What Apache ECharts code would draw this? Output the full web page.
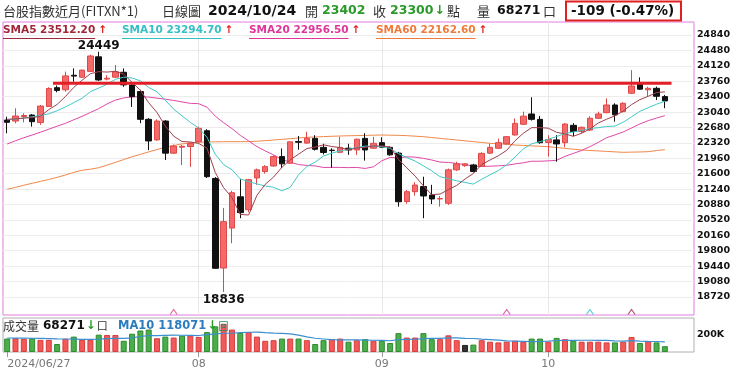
<!DOCTYPE html>
<html><head><meta charset="utf-8">
<script src="https://cdn.jsdelivr.net/npm/echarts@6/dist/echarts.min.js"></script>
<style>html,body{margin:0;padding:0;background:#fff}#c{width:740px;height:373px}</style>
</head><body><div id="c"></div>
<script>
// ---------- data ----------
const dates = [
 '2024/06/27','2024/06/28',
 '2024/07/01','2024/07/02','2024/07/03','2024/07/04','2024/07/05','2024/07/08','2024/07/09','2024/07/10','2024/07/11','2024/07/12',
 '2024/07/15','2024/07/16','2024/07/17','2024/07/18','2024/07/19','2024/07/22','2024/07/23','2024/07/26','2024/07/29','2024/07/30','2024/07/31',
 '2024/08/01','2024/08/02','2024/08/05','2024/08/06','2024/08/07','2024/08/08','2024/08/09','2024/08/12','2024/08/13','2024/08/14','2024/08/15','2024/08/16',
 '2024/08/19','2024/08/20','2024/08/21','2024/08/22','2024/08/23','2024/08/26','2024/08/27','2024/08/28','2024/08/29','2024/08/30',
 '2024/09/02','2024/09/03','2024/09/04','2024/09/05','2024/09/06','2024/09/09','2024/09/10','2024/09/11','2024/09/12','2024/09/13',
 '2024/09/16','2024/09/18','2024/09/19','2024/09/20','2024/09/23','2024/09/24','2024/09/25','2024/09/26','2024/09/27','2024/09/30',
 '2024/10/01','2024/10/04','2024/10/07','2024/10/08','2024/10/09','2024/10/11','2024/10/14','2024/10/15','2024/10/16','2024/10/17','2024/10/18',
 '2024/10/21','2024/10/22','2024/10/23','2024/10/24'
];
const opens = [22854,22830,22935,22970,22795,23170,23610,23560,23900,23855,23990,24330,23810,23855,23970,23670,23520,22870,22390,22830,
 22080,22220,22235,22350,22605,21490,19395,20330,21060,20760,21500,21650,21780,22000,21845,22350,22315,22425,22215,22150,
 22100,22195,22155,22425,22195,22325,22215,22080,20950,21180,21300,21100,21010,20910,21690,21790,21805,21770,22080,22195,
 22295,22505,22755,22995,22870,22330,22390,22325,22730,22585,22620,22895,23025,23205,23050,23480,23690,23560,23595,23402];
const closes = [22801,22947,22960,22815,23180,23590,23545,23885,23880,24020,24350,23790,23830,23980,23675,23400,22870,22365,22830,22080,
 22245,22240,22310,22660,21530,19390,20480,21155,20690,21460,21690,21765,22000,21830,22345,22335,22430,22170,22095,22140,
 22215,22155,22405,22155,22310,22220,22040,20945,21180,21335,21080,21010,21020,21690,21830,21830,21650,22075,22215,22325,
 22465,22775,22945,22870,22325,22400,22295,22760,22585,22685,22895,22995,23205,22975,23245,23650,23575,23595,23409,23300];
const highs = [22932,23128,23010,22995,23205,23620,23660,23985,24060,24030,24380,24449,23900,24140,24060,23700,23560,22900,22870,22850,
 22280,22270,22330,22700,22640,21520,20800,21200,21470,21480,21720,21800,22030,22190,22350,22480,22580,22500,22300,22195,
 22465,22300,22420,22545,22460,22450,22240,22110,21220,21400,21530,21340,21080,21720,21880,21850,21830,22100,22300,22420,
 22480,22890,23050,23385,22950,22500,22500,22780,22780,22700,22940,23050,23360,23245,23270,24020,23850,23630,23635,23440];
const lows = [22544,22777,22800,22700,22740,23160,23500,23515,23750,23840,23980,23770,23780,23840,23630,23160,22780,22150,22370,21920,
 22060,21800,21760,22330,21500,19380,18836,19975,20560,20700,21340,21600,21760,21730,21830,22160,22300,22140,22050,21740,
 22080,22040,22040,21905,22180,22200,22020,20830,20900,21090,20560,20890,20830,20870,21660,21760,21630,21760,22060,22180,
 22280,22490,22740,22840,22300,22000,21880,22220,22480,22540,22600,22880,23010,22815,23030,23460,23560,23400,23320,23130];
const volumes = [158000,162000,155000,162000,143000,143000,94000,155000,181000,143000,143000,204000,200000,200000,132000,215000,253000,264000,162000,181000,
 170000,192000,192000,177000,234000,302000,332000,264000,226000,234000,181000,132000,139000,158000,158000,158000,139000,94000,139000,151000,
 158000,121000,139000,151000,132000,132000,106000,222000,170000,170000,222000,151000,151000,196000,139000,83000,87000,139000,121000,113000,
 121000,132000,121000,158000,158000,121000,166000,151000,132000,121000,121000,121000,113000,113000,121000,177000,106000,128000,113000,68271];
const sma5 = [22870,22880,22900,22910,22941,23098,23218,23403,23616,23784,23936,23985,23974,23994,23925,23735,23551,23258,23028,22709,
 22478,22352,22341,22307,22197,21626,21274,21043,20649,20635,21095,21352,21521,21749,21926,22055,22188,22222,22275,22234,
 22210,22155,22202,22214,22248,22249,22226,21934,21739,21544,21316,21110,21125,21227,21326,21476,21604,21815,21920,22019,
 22146,22371,22545,22676,22676,22663,22567,22530,22473,22545,22644,22784,22873,22951,23063,23214,23330,23408,23495,23512.2];
const sma10 = [22860,22880,22900,22930,22960,23000,23070,23160,23260,23362,23517,23602,23689,23805,23855,23836,23768,23616,23511,23317,
 23107,22952,22800,22668,22453,22052,21813,21692,21478,21416,21361,21313,21282,21199,21281,21575,21770,21872,22012,22080,
 22133,22172,22212,22245,22241,22230,22191,22068,21977,21896,21783,21668,21530,21483,21435,21396,21357,21470,21574,21673,
 21811,21988,22180,22298,22348,22405,22469,22538,22575,22611,22654,22676,22702,22712,22804,22929,23057,23141,23223,23294.7];
const sma20 = [22294,22370,22440,22504,22570,22640,22710,22777,22860,22940,23030,23120,23230,23320,23370,23395,23400,23390,23365,23340,
 23312,23277,23244,23236,23154,22944,22791,22654,22495,22367,22234,22132,22041,21933,21867,21814,21792,21782,21745,21748,
 21747,21742,21747,21722,21761,21902,21980,21970,21994,21988,21958,21920,21871,21864,21838,21813,21774,21769,21775,21784,
 21797,21828,21855,21891,21891,21900,21913,22004,22074,22142,22232,22332,22441,22505,22576,22667,22763,22839,22899,22956.5];
const sma60 = [21236,21280,21330,21376,21420,21465,21515,21570,21630,21680,21705,21740,21800,21865,21930,21997,22050,22110,22165,22217,
 22260,22295,22320,22334,22340,22345,22348,22348,22348,22350,22358,22372,22387,22403,22418,22434,22450,22458,22466,22474,
 22481,22486,22490,22495,22500,22504,22500,22496,22489,22477,22465,22445,22426,22406,22387,22368,22349,22330,22310,22300,
 22290,22270,22260,22250,22240,22231,22212,22193,22173,22154,22143,22132,22121,22110,22100,22104,22108,22115,22140,22162.6];
const volMa10 = [165000,164000,163000,162000,160000,158000,155000,153000,151000,149600,148100,152300,156800,160600,159500,166700,182600,193500,191600,195400,
 198100,196900,196100,193800,204000,212700,220600,220600,227000,232300,233400,227400,222100,220200,212600,198200,178900,161900,153200,144900,
 142600,141500,141500,140800,138200,135600,132300,145100,148200,150100,156500,159500,160700,165200,165900,161000,159100,150800,145900,140200,
 130100,128200,125200,121400,123300,127100,135000,136200,137300,138100,138100,137000,136200,131700,128000,133600,127600,125300,123400,118071];
const yTicks = [18720,19080,19440,19800,20160,20520,20880,21240,21600,21960,22320,22680,23040,23400,23760,24120,24480,24840];
const volTicks = [200000];
const resistance = {from: 5.5, to: 79.8, price: 23712};
const crossMarks = [{idx:20, color:'#e0508a'},{idx:60, color:'#d8409a'},{idx:70, color:'#38c4c8'},{idx:75, color:'#a03048'}];

// ---------- chart ----------
const N = dates.length;
const xCats = dates.concat(['','','']);
const yMin = 18299, yMax = 25144;
const isMonthStart = i => i > 0 && i < N && dates[i].slice(5,7) !== dates[i-1].slice(5,7);
// month starts too close to the first label are not labelled
const showTick = i => i < N && (i === 0 || (i > 4 && isMonthStart(i)));
const monthStarts = dates.map((d,i)=>i).filter(i => i > 4 && isMonthStart(i));

const candleData = dates.map((d,i)=>[opens[i], closes[i], lows[i], highs[i]]);
const volData = volumes.map((v,i)=>{
  const prev = i > 0 ? closes[i-1] : opens[i];
  let c = '#f25a5a', b = '#d83c3c';
  if (closes[i] < prev) { c = '#4aae4a'; b = '#2f8a2f'; }
  else if (closes[i] === prev) { c = '#333'; b = '#222'; }
  return {value: v, itemStyle: {color: c, borderColor: b, borderWidth: 1}};
});

const NUM = '"DejaVu Sans", Verdana, sans-serif';
const CJK = '"Noto Sans CJK TC", "Noto Sans CJK SC", sans-serif';
const mctx = document.createElement('canvas').getContext('2d');
const tw = (s, f) => { mctx.font = f; return mctx.measureText(s).width; };

const g = [];
function txt(x, y, s, fill, font) {
  g.push({type:'text', x: x, y: y, z: 100, style:{text: s, fill: fill, font: font, verticalAlign:'middle', textVerticalAlign:'middle'}});
  return x + tw(s, font);
}
// header
const last = N - 1;
const chg = closes[last] - closes[last-1];
const pct = (chg / closes[last-1] * 100).toFixed(2);
const arrowCol = chg < 0 ? '#2a9a2a' : '#e02020';
const fH = '13px ' + CJK, fD = 'bold 14px ' + NUM, fB = 'bold 12.5px ' + NUM;
txt(3, 11, '台股指數近月(FITXN*1)', '#333', fH);
txt(162, 11, '日線圖', '#333', fH);
txt(208, 11, dates[last], '#111', fD);
txt(305, 11, '開', '#333', fH);
txt(322, 11, String(opens[last]), '#2a9a2a', fB);
txt(373, 11, '收', '#333', fH);
let hx = txt(390, 11, String(closes[last]), '#2a9a2a', fB);
txt(hx + 1, 11, chg < 0 ? '↓' : '↑', arrowCol, fB);
txt(447, 11, '點', '#333', fH);
txt(477, 11, '量', '#333', fH);
txt(497, 11, String(volumes[last]), '#111', fB);
txt(543, 11, '口', '#333', fH);
g.push({type:'rect', z: 100, shape:{x:566, y:1.5, width:115, height:19}, style:{fill:'none', stroke:'#e02020', lineWidth:2}});
txt(571, 11, chg + ' (' + pct + '%)', '#111', 'bold 13.5px ' + NUM);

// SMA legend
const fL = 'bold 10.5px ' + NUM;
const legends = [
  {name:'SMA5', arr:sma5, color:'#a0283a', x:3},
  {name:'SMA10', arr:sma10, color:'#36c0c4', x:122},
  {name:'SMA20', arr:sma20, color:'#e0359a', x:249},
  {name:'SMA60', arr:sma60, color:'#f07a3a', x:376}
];
legends.forEach(l => {
  const v = l.arr[last], p = l.arr[last-1];
  const s = l.name + ' ' + v.toFixed(2);
  const ex = txt(l.x, 30.5, s, l.color, fL);
  g.push({type:'line', z:100, shape:{x1:l.x, y1:38.5, x2:ex, y2:38.5}, style:{stroke:l.color, lineWidth:1}});
  txt(ex + 3, 30.5, v >= p ? '↑' : '↓', v >= p ? '#e02020' : '#2a9a2a', fL);
});

// volume legend
let vx = txt(3, 326, '成交量', '#333', '12px ' + CJK);
vx = txt(vx + 4, 326, String(volumes[last]), '#111', 'bold 12px ' + NUM);
const vDown = volumes[last] < volumes[last-1];
vx = txt(vx + 1, 326, vDown ? '↓' : '↑', vDown ? '#2a9a2a' : '#e02020', 'bold 12px ' + NUM);
txt(vx + 1, 326, '口', '#333', '11px ' + CJK);
let mx = txt(118, 326, 'MA10 ' + volMa10[last], '#2b7bbf', 'bold 11.5px ' + NUM);
const mDown = volMa10[last] < volMa10[last-1];
mx = txt(mx + 1, 326, mDown ? '↓' : '↑', mDown ? '#2a9a2a' : '#e02020', 'bold 12px ' + NUM);
txt(mx + 1, 326, '回', '#2a8a5a', '10px ' + CJK);

const chart = echarts.init(document.getElementById('c'));
chart.setOption({
  animation: false,
  backgroundColor: '#fff',
  grid: [
    {left: 3, right: 46, top: 22, height: 293, show: true, borderColor: '#e07ee0', borderWidth: 1},
    {left: 3, right: 46, top: 318, height: 34, show: true, borderColor: '#b0b0b0', borderWidth: 1}
  ],
  xAxis: [
    {type:'category', gridIndex:0, data: xCats, show:false, boundaryGap:true},
    {type:'category', gridIndex:1, data: xCats, boundaryGap:true,
      axisLine:{show:false},
      axisTick:{show:true, alignWithLabel:true, interval:(i)=>showTick(i), length:5, lineStyle:{color:'#999'}},
      axisLabel:{interval:(i)=>showTick(i), color:'#777', fontFamily:'DejaVu Sans', fontSize:11, margin:7,
        alignMinLabel:'left', hideOverlap:false,
        formatter:(v,i)=> i === 0 ? v : v.slice(5,7)},
      splitLine:{show:false}},
    {type:'value', gridIndex:0, min:-0.5, max:xCats.length-0.5,
      axisLine:{show:false}, axisLabel:{show:false, customValues: monthStarts},
      axisTick:{show:false, customValues: monthStarts},
      splitLine:{show:true, lineStyle:{color:'#e6e6e6', width:1}}}
  ],
  yAxis: [
    {type:'value', gridIndex:0, position:'right', min:yMin, max:yMax, scale:true,
      axisLine:{show:false},
      axisTick:{show:false, customValues: yTicks},
      axisLabel:{customValues: yTicks, color:'#111', fontWeight:'bold', fontFamily:'DejaVu Sans', fontSize:9.5, margin:3,
        formatter:(v)=>String(v)},
      splitLine:{show:true, lineStyle:{color:'#ececec', width:1}}},
    {type:'value', gridIndex:1, position:'right', min:0, max:400000,
      axisLine:{show:false},
      axisTick:{show:false, customValues: volTicks},
      axisLabel:{customValues: volTicks, color:'#111', fontWeight:'bold', fontFamily:'DejaVu Sans', fontSize:9.5, margin:3,
        formatter:(v)=> (v/1000) + 'K'},
      splitLine:{show:false}}
  ],
  series: [
    {type:'line', name:'SMA60', xAxisIndex:0, yAxisIndex:0, data:sma60, symbol:'none', z:2,
      lineStyle:{color:'#f0884a', width:1}},
    {type:'line', name:'SMA20', xAxisIndex:0, yAxisIndex:0, data:sma20, symbol:'none', z:2,
      lineStyle:{color:'#e048a8', width:1}},
    {type:'candlestick', name:'K', xAxisIndex:0, yAxisIndex:0, data:candleData, barWidth:6, z:3,
      itemStyle:{color:'#f46a6a', color0:'#111', borderColor:'#e04848', borderColor0:'#111', borderWidth:1},
      markPoint:{symbol:'circle', symbolSize:1, itemStyle:{color:'rgba(0,0,0,0)'}, z:10,
        label:{show:true, color:'#111', fontWeight:'bold', fontFamily:'DejaVu Sans', fontSize:12, formatter:(p)=>String(p.value)},
        data:[
          {type:'max', valueDim:'highest', label:{position:'top', distance:-1}},
          {type:'min', valueDim:'lowest', label:{position:'bottom', distance:1}}
        ]}},
    {type:'line', name:'SMA10', xAxisIndex:0, yAxisIndex:0, data:sma10, symbol:'none', z:4,
      lineStyle:{color:'#40c8c8', width:1}},
    {type:'line', name:'SMA5', xAxisIndex:0, yAxisIndex:0, data:sma5, symbol:'none', z:4,
      lineStyle:{color:'#a0404e', width:1}},
    {type:'line', name:'resistance', xAxisIndex:2, yAxisIndex:0, symbol:'none', z:6,
      data:[[resistance.from, resistance.price],[resistance.to, resistance.price]],
      lineStyle:{color:'#e41e26', width:3}},
    {type:'scatter', name:'cross', xAxisIndex:0, yAxisIndex:0, z:6,
      symbol:'path://M0,6 L4,0 L8,6', symbolSize:[7,5], symbolOffset:[0,-3],
      data: crossMarks.map(m=>({value:[m.idx, yMin], itemStyle:{color:'rgba(0,0,0,0)', borderColor:m.color, borderWidth:1}}))},
    {type:'bar', name:'VOL', xAxisIndex:1, yAxisIndex:1, data:volData, barWidth:6, z:2},
    {type:'line', name:'VMA10', xAxisIndex:1, yAxisIndex:1, data:volMa10, symbol:'none', z:5,
      lineStyle:{color:'#3a8fd0', width:1.2}}
  ],
  graphic: g
});
</script>
</body></html>
